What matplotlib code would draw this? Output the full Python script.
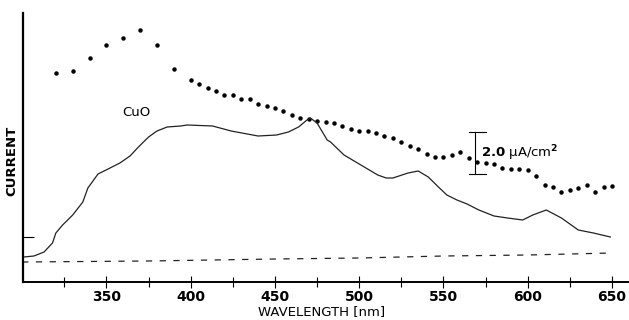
import matplotlib
matplotlib.use("Agg")
from matplotlib import pyplot as plt
import numpy as np

# values (current in uA/cm^2, axis bottom = 0)
dot_nm = [320, 330, 340, 350, 360, 370, 380, 390] + list(range(400, 655, 5))
dot_px = [73, 71, 58, 45, 38, 30, 45, 69,
          80, 84, 88, 91, 95, 95, 99, 99, 104, 106, 108, 111, 115, 118, 119, 121,
          122, 123, 126, 129, 131, 131, 133, 136, 138, 142, 146, 149, 154, 157, 157,
          155, 152, 158, 162, 163, 164, 168, 169, 169, 170, 176, 185, 187, 192, 190,
          188, 185, 192, 187, 186]

cuo_nm = [301, 307, 313, 318, 320, 324, 330, 336, 339, 345, 351, 358, 364, 369,
          375, 380, 386, 394, 398, 413, 424, 440, 451, 458, 464, 469, 471, 475,
          481, 483, 491, 501, 511, 516, 520, 529, 535, 541, 547, 552, 558, 564,
          571, 580, 588, 597, 603, 611, 620, 630, 639, 649]
cuo_px = [257, 256, 252, 243, 233, 225, 215, 202, 188, 174, 169, 163, 156, 147,
          137, 131, 127, 126, 125, 126, 131, 136, 135, 132, 127, 120, 118, 123,
          140, 142, 155, 165, 175, 178, 178, 173, 171, 177, 187, 195, 200, 204,
          210, 216, 218, 220, 215, 210, 218, 230, 233, 237]

base_nm = [300, 375, 450, 500, 550, 600, 650]
base_px = [262, 261, 259, 258, 256, 255, 253]

scale = 21.0  # pixels per uA/cm^2
dot_y = [(282 - p) / scale for p in dot_px]
cuo_y = [(282 - p) / scale for p in cuo_px]
base_y = [(282 - p) / scale for p in base_px]

fig = plt.figure(figsize=(6.29, 3.20), dpi=100)
ax = fig.add_axes([23 / 629, 1 - 282 / 320, 605 / 629, (282 - 13) / 320])

ax.plot(dot_nm, dot_y, linestyle="none", marker="o", markersize=2.2, color="black")
ax.plot(cuo_nm, cuo_y, color="#222222", linewidth=0.9)
ax.plot(base_nm, base_y, color="#222222", linewidth=0.9, dashes=(5, 6))

ax.set_xlim(300.5, 659.5)
ax.set_ylim(0, (282 - 13) / scale)

ax.spines["top"].set_visible(False)
ax.spines["right"].set_visible(False)
ax.spines["left"].set_linewidth(1.6)
ax.spines["bottom"].set_linewidth(1.4)

ax.set_xticks(range(350, 651, 50))
ax.set_xticks(range(325, 651, 50), minor=True)
ax.tick_params(axis="x", which="major", direction="inout", length=9, width=0.8,
               labelsize=10, pad=1)
ax.tick_params(axis="x", which="minor", direction="inout", length=7, width=0.8)
for lbl in ax.get_xticklabels():
    lbl.set_fontweight("bold")

ax.set_yticks([(282 - 237) / scale])
ax.set_yticklabels([])
ax.tick_params(axis="y", direction="in", length=8, width=0.8)

ax.set_xlabel("WAVELENGTH [nm]", fontsize=9.5)
ax.xaxis.set_label_coords((322 - 23) / 605, -(312 - 282) / 269)
ax.xaxis.label.set_va("center")
ax.set_ylabel("CURRENT", fontsize=9.5, fontweight="bold")
ax.yaxis.set_label_coords(-11 / 605, (282 - 161) / 269)
ax.yaxis.label.set_va("center")

ax.text(368, (282 - 112) / scale, "CuO", fontsize=9.5, ha="center", va="center")

# 2.0 uA/cm^2 scale bar
y_top = (282 - 132) / scale
y_bot = y_top - 2.0
ax.plot([569, 569], [y_bot, y_top], color="black", linewidth=0.8)
ax.plot([565, 575], [y_top, y_top], color="black", linewidth=0.8)
ax.plot([565, 575], [y_bot, y_bot], color="black", linewidth=0.8)
ax.text(572, (282 - 153) / scale, r"$\mathbf{2.0}$ µA/cm$^{\mathbf{2}}$",
        fontsize=9.5, ha="left", va="center")

fig.savefig("out.png", dpi=100)
